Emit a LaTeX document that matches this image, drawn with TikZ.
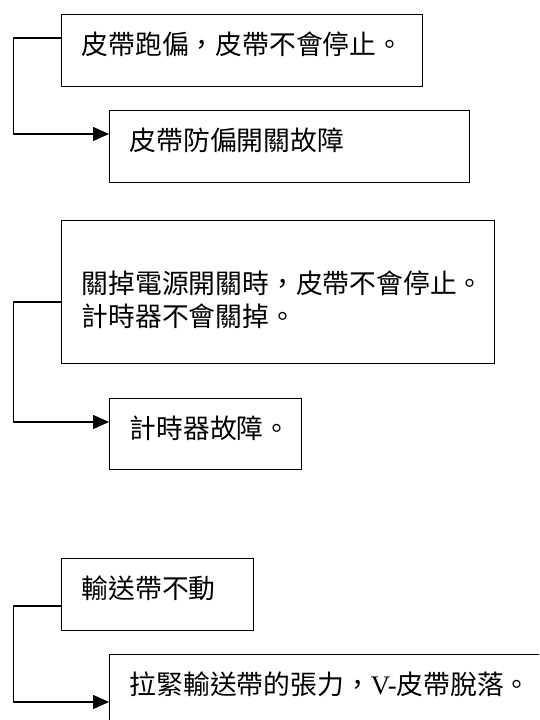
\documentclass[tikz,border=0pt]{standalone}
\usepackage{fontspec}
\setmainfont{Liberation Serif}
\newfontfamily\cjk{Noto Sans CJK TC}
\usetikzlibrary{arrows.meta,calc}
\tikzset{
  faultbox/.style={draw, line width=1.4pt, anchor=north west, inner xsep=20pt, inner ysep=0pt,
    align=left, text height=40pt, font={\cjk\fontsize{26.8pt}{33pt}\selectfont}},
  link/.style={line width=1.4pt, -{Triangle[length=16pt,width=14pt]}}
}

\begin{document}
\begin{tikzpicture}[x=1pt,y=-1pt]
			%%%%% START %%%%%
			\clip (0,0) rectangle (539,720);
			
			\node[faultbox, text width=321pt, text depth=32pt] (b1) at (61,14) {皮帶跑偏，皮帶不會停止。};
			\node[faultbox, text width=320pt, text depth=32pt] (b2) at (109,110) {皮帶防偏開關故障};
			\draw[link] ($(b1.north west)+(0,24)$) -- ++(-47.5,0) |- ($(b2.north west)+(0,24)$);
			
			\node[faultbox, text width=393pt, text height=73pt, text depth=70pt] (b3) at (61,220) {關掉電源開關時，皮帶不會停止。\\計時器不會關掉。};
			\node[faultbox, text width=152pt, text depth=31pt] (b4) at (109,398) {計時器故障。};
			\draw[link] ($(b3.north west)+(0,82)$) -- ++(-47.5,0) |- ($(b4.north west)+(0,24)$);
			
			\node[faultbox, text width=152pt, text depth=32pt] (b5) at (61,558) {輸送帶不動};
			\node[faultbox, text width=420pt, text depth=50pt] (b6) at (109,654) {拉緊輸送帶的張力，{\rmfamily V-}皮帶脫落。};
			\draw[link] ($(b5.north west)+(0,48)$) -- ++(-47.5,0) |- ($(b6.north west)+(0,48)$);
			
			%%%%% END %%%%%
\end{tikzpicture}
\end{document}
